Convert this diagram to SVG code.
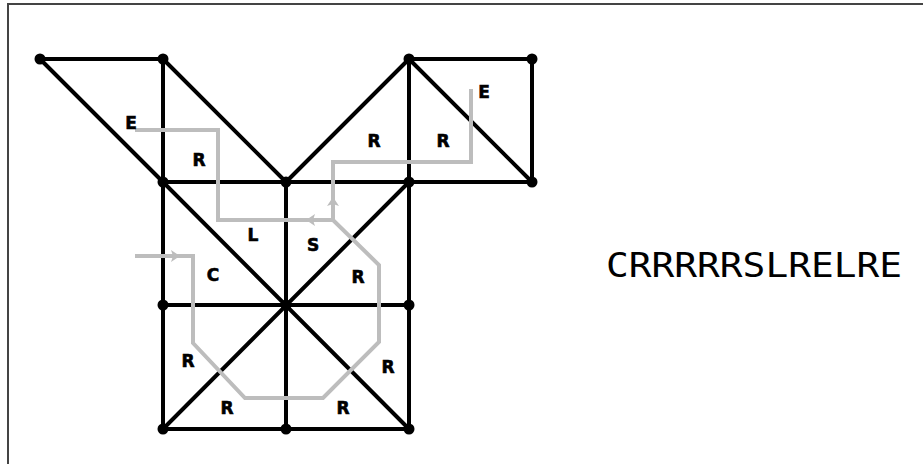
<svg xmlns="http://www.w3.org/2000/svg" width="923" height="464" viewBox="0 0 923 464">
<style>
.e{stroke:#000;stroke-width:4;stroke-linecap:round;fill:none}
.p{stroke:#bdbdbd;stroke-width:4;fill:none;stroke-linejoin:miter}
.a{fill:#bdbdbd}
.n{fill:#000}
.l{font-family:"DejaVu Sans",sans-serif;font-weight:bold;font-size:17px;text-anchor:middle;fill:#000;stroke:#000;stroke-width:0.6}
.big{font-family:"DejaVu Sans Mono","Liberation Mono",monospace;font-size:34px;fill:#000}
</style>
<rect width="923" height="464" fill="#fff"/>
<path d="M8,464 V4 H923" stroke="#444" stroke-width="2" fill="none"/>
<g id="edges">
<path class="e" d="M40,59 H163 M40,59 L163,182 M163,59 V429 M163,59 L286,182 M163,182 H532 M286,182 L409,59 M409,59 H532 M409,59 V429 M409,59 L532,182 M532,59 V182 M286,182 V429 M163,305 H409 M163,429 H409 M163,182 L409,429 M409,182 L163,429"/>
</g>
<g id="path">
<polyline class="p" points="135,256 193,256 193,343 245,398 323,398 379,342 379,265 333,220 218,220 218,130 135,130"/>
<polyline class="p" points="333,220 333,162 471,162 471,89"/>
<polygon class="a" points="180,256 171,250 173,256 171,262"/>
<polygon class="a" points="306,220 315,214 313,220 315,226"/>
<polygon class="a" points="333,197 327,206 333,204 339,206"/>
</g>
<g id="nodes">
<circle class="n" cx="40" cy="59" r="5.5"/>
<circle class="n" cx="163" cy="59" r="5.5"/>
<circle class="n" cx="409" cy="59" r="5.5"/>
<circle class="n" cx="532" cy="59" r="5.5"/>
<circle class="n" cx="163" cy="182" r="5.5"/>
<circle class="n" cx="286" cy="182" r="5.5"/>
<circle class="n" cx="409" cy="182" r="5.5"/>
<circle class="n" cx="532" cy="182" r="5.5"/>
<circle class="n" cx="163" cy="305" r="5.5"/>
<circle class="n" cx="286" cy="305" r="5.5"/>
<circle class="n" cx="409" cy="305" r="5.5"/>
<circle class="n" cx="163" cy="429" r="5.5"/>
<circle class="n" cx="286" cy="429" r="5.5"/>
<circle class="n" cx="409" cy="429" r="5.5"/>
</g>
<g id="labels">
<text class="l" x="131" y="129">E</text>
<text class="l" x="199" y="166">R</text>
<text class="l" x="484" y="98">E</text>
<text class="l" x="374" y="147">R</text>
<text class="l" x="443" y="147">R</text>
<text class="l" x="253" y="241">L</text>
<text class="l" x="313" y="251">S</text>
<text class="l" x="213" y="281">C</text>
<text class="l" x="358" y="283">R</text>
<text class="l" x="188" y="367">R</text>
<text class="l" x="388" y="373">R</text>
<text class="l" x="227" y="414">R</text>
<text class="l" x="343" y="414">R</text>
</g>
<text class="big" x="606" y="277" textLength="296" lengthAdjust="spacingAndGlyphs">CRRRRRSLRELRE</text>
</svg>
